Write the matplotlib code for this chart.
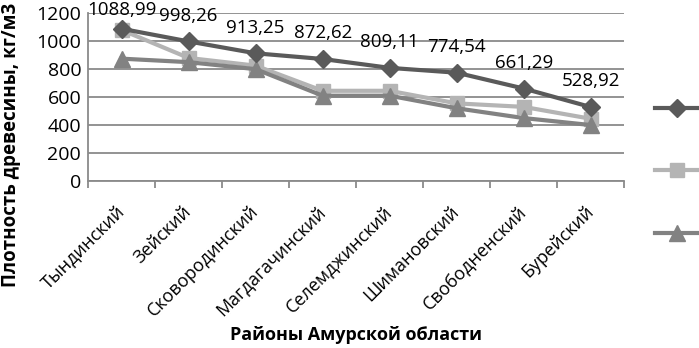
import matplotlib.pyplot as plt
from matplotlib.lines import Line2D

plt.rcParams['font.family'] = ['Open Sans', 'DejaVu Sans']

# districts of Amur region
districts = ["Тындинский", "Зейский", "Сковородинский", "Магдагачинский",
             "Селемджинский", "Шимановский", "Свободненский", "Бурейский"]
series1 = [1088.99, 998.26, 913.25, 872.62, 809.11, 774.54, 661.29, 528.92]
series2 = [1080, 880, 825, 645, 645, 555, 530, 445]
series3 = [875, 850, 800, 610, 610, 520, 450, 400]
labels1 = ["1088,99", "998,26", "913,25", "872,62", "809,11", "774,54", "661,29", "528,92"]

c1, c2, c3 = "#5a5a5a", "#b4b4b4", "#828282"

fig = plt.figure(figsize=(6.99, 3.48), dpi=100)
ax = fig.add_axes([0.126, 0.48, 0.767, 0.482])

x = list(range(len(districts)))
ax.plot(x, series2, color=c2, lw=3, marker="s", ms=10, zorder=3)
ax.plot(x, series3, color=c3, lw=3, marker="^", ms=11, zorder=4)
ax.plot(x, series1, color=c1, lw=3, marker="D", ms=9, zorder=5)

for i, v in enumerate(series1):
    # the first label is pushed down a bit so it stays inside the picture
    off = 7 if i == 0 else 12
    ax.annotate(labels1[i], (i, v), xytext=(0, off), textcoords="offset points",
                ha="center", va="bottom", fontsize=13.5, clip_on=False)

ax.set_xlim(-0.5, len(districts) - 0.5)
ax.set_ylim(0, 1200)
ax.set_yticks(range(0, 1201, 200))
ax.yaxis.grid(True, color="#8a8a8a", lw=1.3)
ax.set_axisbelow(True)
ax.tick_params(axis="y", length=0, labelsize=14, pad=5)

ax.set_xticks(x)
ax.set_xticklabels(districts, rotation=45, ha="right", va="center",
                   rotation_mode="anchor", fontsize=13)
ax.set_xticks([i - 0.5 for i in range(len(districts) + 1)], minor=True)
ax.tick_params(axis="x", which="major", length=0, pad=20)
ax.tick_params(axis="x", which="minor", length=5, color="#8a8a8a", width=1.3)

for s in ["top", "right"]:
    ax.spines[s].set_visible(False)
for s in ["left", "bottom"]:
    ax.spines[s].set_color("#8a8a8a")
    ax.spines[s].set_linewidth(1.3)

fig.text(0.016, 0.585, "Плотность древесины, кг/м3", fontsize=13.5, fontweight="bold",
         rotation=90, ha="center", va="center")
fig.text(0.51, 0.037, "Районы Амурской области", fontsize=13, fontweight="bold",
         ha="center", va="center")

# legend markers without text, at the right edge
legend_items = [(c1, "D", 9, 108), (c2, "s", 10, 170), (c3, "^", 11, 233)]
for col, mk, ms, ypix in legend_items:
    yf = 1 - ypix / 348
    fig.add_artist(Line2D([655 / 699, 1.0], [yf, yf], transform=fig.transFigure,
                          color=col, lw=3))
    fig.add_artist(Line2D([677 / 699], [yf], transform=fig.transFigure,
                          color=col, marker=mk, ms=ms, lw=0))

fig.savefig("out.png", dpi=100)
